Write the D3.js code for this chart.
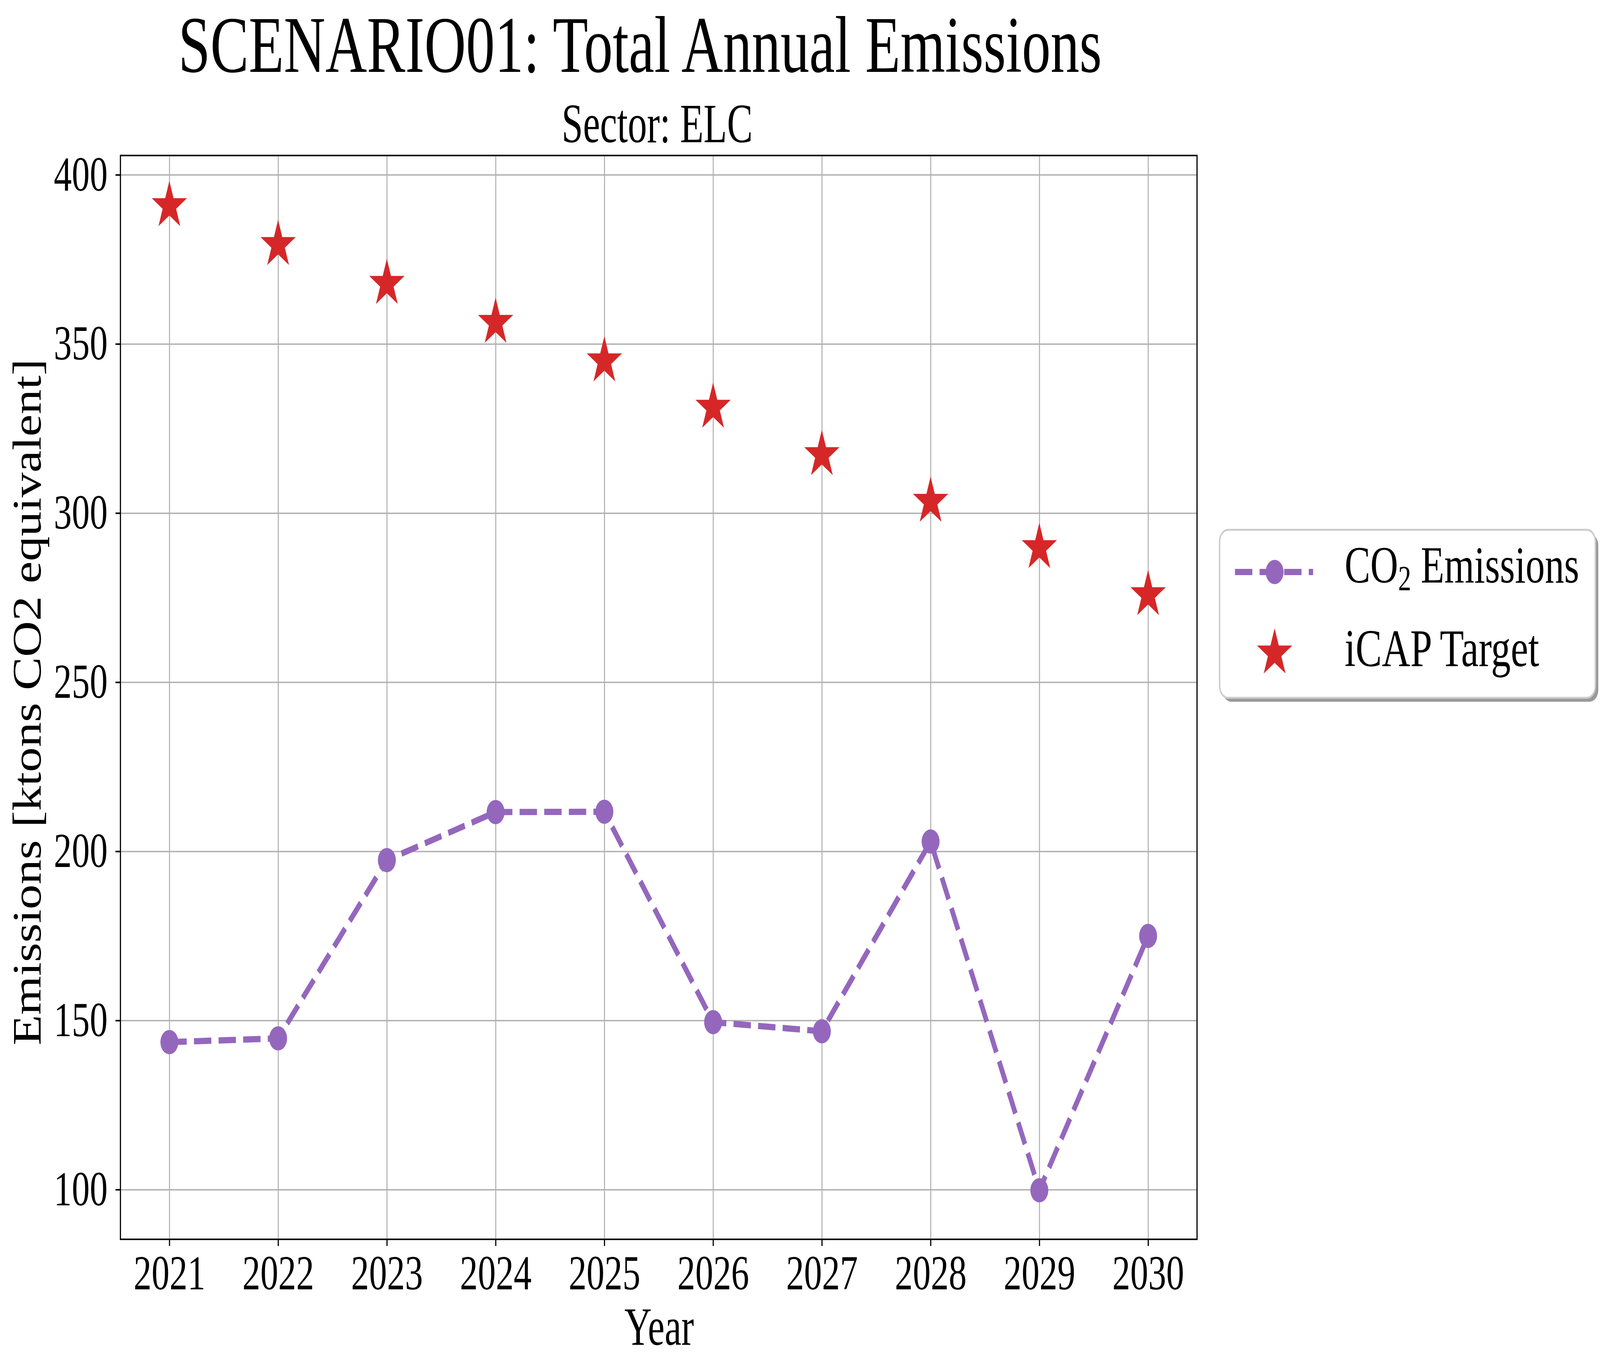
<!DOCTYPE html>
<meta charset="utf-8">
<head>
<style>
html,body{
	margin:0;
	padding:0;
	overflow:hidden;
	background:#fff;
}
svg{
	display:block;
}
text{
	font-family:"Liberation Serif","DejaVu Serif",serif;
	fill:#000;
}
.grid line{
	stroke:#b0b0b0;
	stroke-width:3.5px;
}
.grid path{
	display:none;
}
.axis path{
	display:none;
}
.axis line{
	stroke:#000;
	stroke-width:4px;
}
.axis text{
	font-size:124px;
}
</style>
</head>
<body>
<script src="https://d3js.org/d3.v7.min.js"></script>
<script>

var years=[2021,2022,2023,2024,2025,2026,2027,2028,2029,2030];
var co2=[143.6,144.7,197.4,211.6,211.7,149.5,146.8,202.9,99.8,175.0];
var target=[390.8,379.3,367.8,356.3,344.9,331.2,317.2,303.4,289.7,275.8];
var yTicks=[100,150,200,250,300,350,400];
var legendLabels=["CO","iCAP Target"];

var purple="#9467bd", red="#d62728";

var W=5527, H=3509;
var m={left:416, right:4135, top:398, bottom:3172};
var pw=m.right-m.left, ph=m.bottom-m.top;

// the window is narrower than the chart, so draw in chart units and let the viewBox fit it
var svg=d3.select("body").append("svg")
	.attr("viewBox","0 0 "+W+" "+H)
	.attr("preserveAspectRatio","none")
	.style("width","100vw").style("height","100vh");
svg.append("rect").attr("width",W).attr("height",H).attr("fill","#fff");

var x=d3.scaleLinear().domain([2020.55,2030.45]).range([0,pw]);
var y=d3.scaleLinear().domain([85.3,405.7]).range([ph,0]);

// titles
svg.append("text").attr("x",2211).attr("y",184)
	.attr("text-anchor","middle").style("font-size","206px")
	.attr("textLength",3190).attr("lengthAdjust","spacingAndGlyphs")
	.text("SCENARIO01: Total Annual Emissions");
svg.append("text").attr("x",2270).attr("y",364)
	.attr("text-anchor","middle").style("font-size","143px")
	.attr("textLength",660).attr("lengthAdjust","spacingAndGlyphs")
	.text("Sector: ELC");

var g=svg.append("g").attr("transform","translate("+m.left+","+m.top+")");

// grid
g.append("g").attr("class","grid").attr("transform","translate(0,"+ph+")")
	.call(d3.axisBottom(x).tickValues(years).tickSize(-ph).tickFormat(""));
g.append("g").attr("class","grid")
	.call(d3.axisLeft(y).tickValues(yTicks).tickSize(-pw).tickFormat(""));

// CO2 line
var line=d3.line().x((d,i)=>x(years[i])).y(d=>y(d));
g.append("path").datum(co2)
	.attr("d",line)
	.attr("fill","none")
	.attr("stroke",purple)
	.attr("stroke-width",16)
	.attr("stroke-dasharray","60,25");

var circle=d3.symbol().type(d3.symbolCircle).size(Math.PI*31*31);
g.selectAll(".co2pt").data(co2).enter().append("path")
	.attr("class","co2pt")
	.attr("transform",(d,i)=>"translate("+x(years[i])+","+y(d)+")")
	.attr("d",circle)
	.attr("fill",purple);

var star=d3.symbol().type(d3.symbolStar).size(64*64/0.8908130915292852);
g.selectAll(".tgt").data(target).enter().append("path")
	.attr("class","tgt")
	.attr("transform",(d,i)=>"translate("+x(years[i])+","+y(d)+")")
	.attr("d",star)
	.attr("fill",red);

// axes
g.append("g").attr("class","axis").attr("transform","translate(0,"+ph+")")
	.call(d3.axisBottom(x).tickValues(years).tickSize(17).tickPadding(23).tickFormat(d3.format("d")));
g.append("g").attr("class","axis")
	.call(d3.axisLeft(y).tickValues(yTicks).tickSize(17).tickPadding(27).tickFormat(d3.format("d")));
g.selectAll(".axis").attr("font-family",null).attr("font-size",null);

g.append("rect").attr("width",pw).attr("height",ph)
	.attr("fill","none").attr("stroke","#000").attr("stroke-width",4);

// axis labels
svg.append("text").attr("x",2277).attr("y",3442)
	.attr("text-anchor","middle").style("font-size","138px")
	.attr("textLength",240).attr("lengthAdjust","spacingAndGlyphs")
	.text("Year");
svg.append("text").attr("transform","translate(140,1797) rotate(-90)")
	.attr("text-anchor","middle").style("font-size","139px")
	.attr("textLength",1757).attr("lengthAdjust","spacingAndGlyphs")
	.text("Emissions [ktons CO2 equivalent]");

// legend
var lg=svg.append("g").attr("transform","translate(4213,1356)");
lg.append("rect").attr("x",10).attr("y",10).attr("width",1298).attr("height",430)
	.attr("rx",30).attr("fill","#999");
lg.append("rect").attr("width",1298).attr("height",430)
	.attr("rx",30).attr("fill","#fff").attr("stroke","#cccccc").attr("stroke-width",5);

lg.append("line").attr("x1",53).attr("x2",323).attr("y1",108).attr("y2",108)
	.attr("stroke",purple).attr("stroke-width",16).attr("stroke-dasharray","60,25");
lg.append("path").attr("transform","translate(190,108)").attr("d",circle).attr("fill",purple);
lg.append("path").attr("transform","translate(190,316)").attr("d",star).attr("fill",red);

var t1=lg.append("text").attr("x",432).attr("y",135).style("font-size","133px");
t1.append("tspan").text(legendLabels[0]);
t1.append("tspan").attr("dy",20).style("font-size","90px").text("2");
t1.append("tspan").attr("dy",-20).text(" Emissions");

lg.append("text").attr("x",432).attr("y",349).style("font-size","136px")
	.text(legendLabels[1]);

</script>
</body>
</html>
